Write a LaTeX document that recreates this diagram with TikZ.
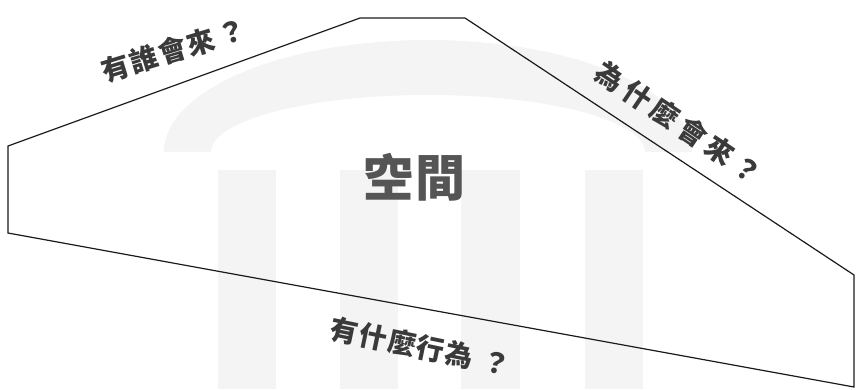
\documentclass[tikz,border=0pt]{standalone}
\usepackage{fontspec}
\newfontfamily\cjk{Noto Sans CJK TC}
\definecolor{wm}{HTML}{F4F4F4}
\definecolor{lbl}{HTML}{3A3A3A}
\definecolor{bigc}{HTML}{555555}
\definecolor{edgec}{HTML}{1A1A1A}
\pgfdeclareverticalshading{bandfade}{100bp}{color(0bp)=(white); color(28bp)=(wm); color(100bp)=(wm)}
\begin{document}
\begin{tikzpicture}[x=1pt,y=-1pt,
  edgelabel/.style={font=\cjk\bfseries\fontsize{28}{28}\selectfont, text=lbl, inner sep=0pt},
  biglabel/.style={font=\cjk\bfseries\fontsize{50}{50}\selectfont, text=bigc, inner sep=0pt},
  wmbar/.style={fill=wm, draw=none},
  outline/.style={draw=edgec, line width=1.2pt, line join=miter}]
\useasboundingbox (0,0) rectangle (856,389);
% watermark
\path[shading=bandfade] (164,152) arc[start angle=180, end angle=360, x radius=264, y radius=112]
  -- (645,152) arc[start angle=0, end angle=-180, x radius=217, y radius=57] -- cycle;
\path[wmbar] (218,170) rectangle (276,389);
\path[wmbar] (340,170) rectangle (398,389);
\path[wmbar] (461,170) rectangle (520,389);
\path[wmbar] (585,170) rectangle (643,389);
% outline
\coordinate (p1) at (8,146);
\coordinate (p2) at (360,18);
\coordinate (p3) at (465,18);
\coordinate (p4) at (854,275);
\coordinate (p5) at (854,387);
\coordinate (p6) at (8,233);
\draw[outline] (p1) -- (p2) -- (p3) -- (p4) -- (p5) -- (p6) -- cycle;
% labels
\node[biglabel] (space) at (414,177) {空\kern2pt間};
\node[edgelabel, rotate=17] (who) at (174,50) {有\kern1.5pt誰\kern1.5pt會\kern1.5pt來\kern5pt？};
\node[edgelabel, rotate=-34] (why) at (679,123) {為\kern5pt什\kern5pt麼\kern5pt會\kern5pt來\kern5pt？};
\node[edgelabel, rotate=-11.7] (what) at (420,347) {有\kern1.6pt什\kern1.6pt麼\kern1.6pt行\kern1.6pt為\kern9pt？};
\end{tikzpicture}
\end{document}
